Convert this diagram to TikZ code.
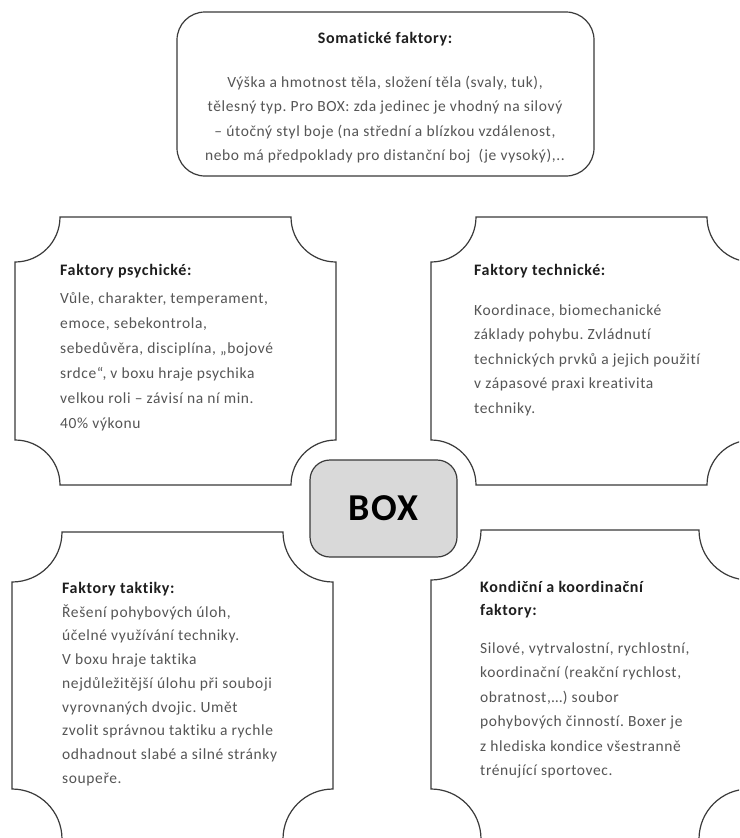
\documentclass[tikz,border=0pt]{standalone}
\usepackage{fontspec}
\setmainfont{Carlito}[Ligatures={NoCommon}, LetterSpace=4]
\frenchspacing
\definecolor{linegray}{HTML}{3A3A3A}
\definecolor{bodygray}{HTML}{555555}
\definecolor{titleblack}{HTML}{1E1E1E}
\definecolor{boxgray}{HTML}{D9D9D9}
\newcommand\scallopbox[5]{% L T R B r
  \draw[frame] ({#1+#5},#2) -- ({#3-#5},#2)
    .. controls ({#3-#5},{#2+0.5523*#5}) and ({#3-0.5523*#5},{#2+#5}) .. (#3,{#2+#5})
    -- (#3,{#4-#5})
    .. controls ({#3-0.5523*#5},{#4-#5}) and ({#3-#5},{#4-0.5523*#5}) .. ({#3-#5},#4)
    -- ({#1+#5},#4)
    .. controls ({#1+#5},{#4-0.5523*#5}) and ({#1+0.5523*#5},{#4-#5}) .. (#1,{#4-#5})
    -- (#1,{#2+#5})
    .. controls ({#1+0.5523*#5},{#2+#5}) and ({#1+#5},{#2+0.5523*#5}) .. cycle;}
\begin{document}
\begin{tikzpicture}[x=1pt,y=-1pt,
  frame/.style={draw=linegray, line width=1.2pt},
  body/.style={anchor=base west, inner sep=0pt, text=bodygray, font=\fontsize{15.5}{18}\selectfont},
  bodyc/.style={body, anchor=base},
  ttl/.style={anchor=base west, inner sep=0pt, text=titleblack, font=\fontsize{16}{18}\selectfont\bfseries},
  ttlc/.style={ttl, anchor=base}]
\useasboundingbox (0,0) rectangle (739,838);
\fill[white] (0,0) rectangle (739,838);
\clip (0,0) rectangle (739,838);

% top box
\node[frame, rounded corners=28pt, minimum width=417pt, minimum height=164pt, inner sep=0pt] (soma) at (385.5,94) {};
\node[ttlc] (somat) at (385,43) {Somatické faktory:};
\foreach \t [count=\i from 0] in {{Výška a hmotnost těla, složení těla (svaly, tuk),},{tělesný typ. Pro BOX: zda jedinec je vhodný na silový},{– útočný styl boje (na střední a blízkou vzdálenost,},{nebo má předpoklady pro distanční boj\ \ (je vysoký),..}}
  \node[bodyc] (so\i) at (385,{87+24.5*\i}) {\t};

% scalloped boxes
\scallopbox{15}{217}{336}{485}{45}
\scallopbox{431}{217}{752}{485}{45}
\scallopbox{12}{532}{333}{839}{50}
\scallopbox{431}{530}{749}{839}{50}

% centre
\node[draw=linegray, line width=1.2pt, fill=boxgray, rounded corners=20pt, minimum width=147pt, minimum height=97pt, inner sep=0pt, font=\fontsize{38}{40}\selectfont\bfseries] (box) at (383.5,508.5) {BOX};

% psychicke
\node[ttl] (pst) at (60,275) {Faktory psychické:};
\foreach \t [count=\i from 0] in {{Vůle, charakter, temperament,},{emoce, sebekontrola,},{sebedůvěra, disciplína, „bojové},{srdce“, v boxu hraje psychika},{velkou roli – závisí na ní min.},{40\% výkonu}}
  \node[body] (ps\i) at (60,{303+25*\i}) {\t};

% technicke
\node[ttl] (tet) at (474,275) {Faktory technické:};
\foreach \t [count=\i from 0] in {{Koordinace, biomechanické},{základy pohybu. Zvládnutí},{technických prvků a jejich použití},{v zápasové praxi kreativita},{techniky.}}
  \node[body] (te\i) at (474,{315+24.5*\i}) {\t};

% taktiky
\node[ttl] (tat) at (62,593) {Faktory taktiky:};
\foreach \t [count=\i from 0] in {{Řešení pohybových úloh,},{účelné využívání techniky.},{V boxu hraje taktika},{nejdůležitější úlohu při souboji},{vyrovnaných dvojic. Umět},{zvolit správnou taktiku a rychle},{odhadnout slabé a silné stránky},{soupeře.}}
  \node[body] (ta\i) at (62,{617+23.75*\i}) {\t};

% kondicni
\node[ttl] (kot1) at (480,592) {Kondiční a koordinační};
\node[ttl] (kot2) at (480,615) {faktory:};
\foreach \t [count=\i from 0] in {{Silové, vytrvalostní, rychlostní,},{koordinační (reakční rychlost,},{obratnost,…) soubor},{pohybových činností. Boxer je},{z hlediska kondice všestranně},{trénující sportovec.}}
  \node[body] (ko\i) at (480,{653+24.5*\i}) {\t};
\end{tikzpicture}
\end{document}
